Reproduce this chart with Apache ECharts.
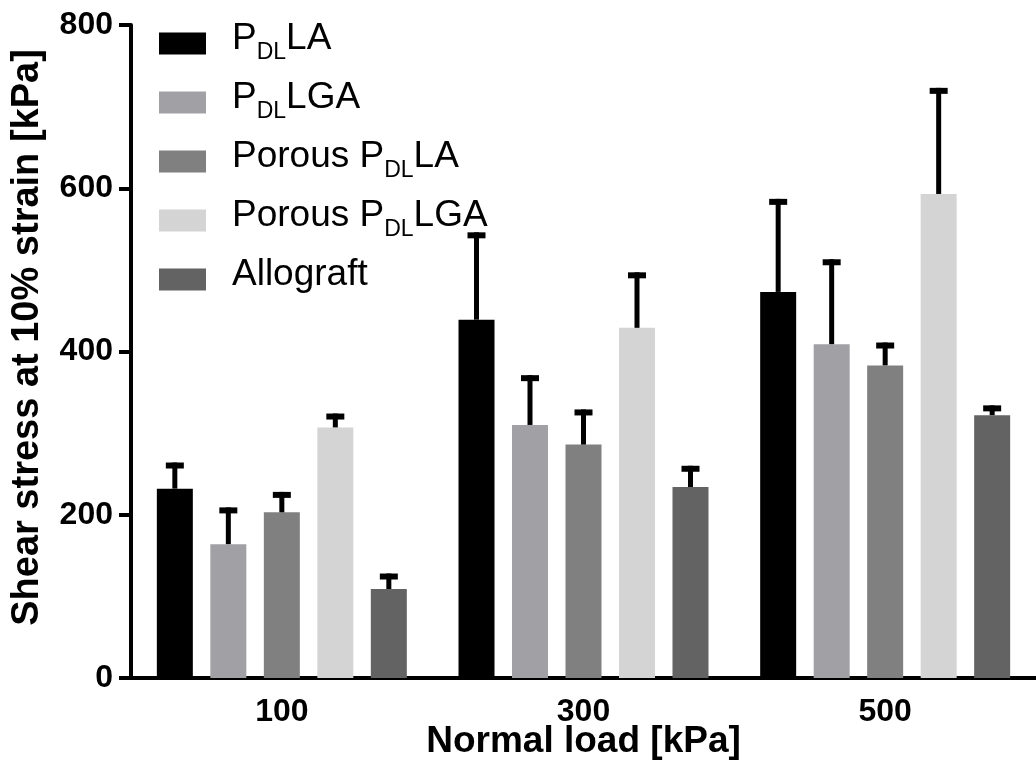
<!DOCTYPE html>
<html>
<head>
<meta charset="utf-8">
<script src="https://cdn.jsdelivr.net/npm/echarts@6/dist/echarts.min.js"></script>
<style>
html,body{margin:0;padding:0;background:#fff;}
#chart{width:1036px;height:783px;}
</style>
</head>
<body>
<div id="chart"></div>
<script>
// ---- data ----
const categories = ['100', '300', '500'];
const seriesNames = ['PDLLA', 'PDLLGA', 'Porous PDLLA', 'Porous PDLLGA', 'Allograft'];
const legendLabels = {
  'PDLLA': '{g| }{m|P}{s|DL}{m|LA}',
  'PDLLGA': '{g| }{m|P}{s|DL}{m|LGA}',
  'Porous PDLLA': '{g| }{m|Porous P}{s|DL}{m|LA}',
  'Porous PDLLGA': '{g| }{m|Porous P}{s|DL}{m|LGA}',
  'Allograft': '{g| }{m|Allograft}'
};
const meanPDLLA = [232, 439, 473];
const meanPDLLGA = [164, 310, 409];
const meanPorousPDLLA = [203, 286, 383];
const meanPorousPDLLGA = [307, 429, 593];
const meanAllograft = [109, 234, 322];
const sdPDLLA = [32, 107, 114];
const sdPDLLGA = [45, 61, 104];
const sdPorousPDLLA = [25, 43, 28];
const sdPorousPDLLGA = [17, 68, 130];
const sdAllograft = [19, 26, 12];
const yTicks = { min: 0, max: 800, interval: 200 };
const colors = ['#000000', '#a1a0a4', '#808080', '#d4d4d4', '#636363'];

const means = [meanPDLLA, meanPDLLGA, meanPorousPDLLA, meanPorousPDLLGA, meanAllograft];
const sds = [sdPDLLA, sdPDLLGA, sdPorousPDLLA, sdPorousPDLLGA, sdAllograft];

const BAR_W = 36, BAR_GAP = 17.5;
const FONT = '"Liberation Sans", Arial, sans-serif';

const barSeries = seriesNames.map((name, i) => ({
  name: name,
  type: 'bar',
  data: means[i],
  barWidth: BAR_W,
  barGap: (BAR_GAP / BAR_W * 100).toFixed(1) + '%',
  itemStyle: { color: colors[i] },
  z: 2
}));

const errSeries = seriesNames.map((name, i) => ({
  name: name + ' SD',
  type: 'custom',
  z: 3,
  data: means[i].map((m, k) => [k, m, m + sds[i][k]]),
  renderItem: function (params, api) {
    const base = api.coord([api.value(0), api.value(1)]);
    const top = api.coord([api.value(0), api.value(2)]);
    const off = (i - (seriesNames.length - 1) / 2) * (BAR_W + BAR_GAP);
    const cx = base[0] + off;
    const capW = 18, capH = 6, stemW = 5;
    return {
      type: 'group',
      children: [
        { type: 'rect', shape: { x: cx - stemW / 2, y: top[1], width: stemW, height: base[1] - top[1] }, style: { fill: '#000' } },
        { type: 'rect', shape: { x: cx - capW / 2, y: top[1], width: capW, height: capH }, style: { fill: '#000' } }
      ]
    };
  },
  encode: { x: 0, y: [1, 2] },
  silent: true
}));

const chart = echarts.init(document.getElementById('chart'), null, { renderer: 'canvas' });
chart.setOption({
  backgroundColor: '#ffffff',
  animation: false,
  grid: { left: 131, top: 25, width: 909, height: 653, containLabel: false },
  legend: {
    data: seriesNames,
    orient: 'vertical',
    left: 159,
    top: 20,
    padding: 0,
    itemWidth: 47,
    itemHeight: 22,
    itemGap: 12,
    icon: 'rect',
    selectedMode: false,
    formatter: function (n) { return legendLabels[n]; },
    textStyle: {
      color: '#000',
      fontFamily: FONT,
      rich: {
        g: { width: 21, fontSize: 37, lineHeight: 37, verticalAlign: 'middle' },
        m: { fontSize: 37, lineHeight: 37, fontFamily: FONT, color: '#000', padding: [0, 0, 10, 0], verticalAlign: 'middle' },
        s: { fontSize: 23, lineHeight: 23, fontFamily: FONT, color: '#000', padding: [18, 0, 0, 0], verticalAlign: 'middle' }
      }
    }
  },
  xAxis: {
    type: 'category',
    data: categories,
    name: 'Normal load [kPa]',
    nameLocation: 'middle',
    nameGap: 45,
    nameMoveOverlap: false,
    nameTextStyle: { fontFamily: FONT, fontWeight: 'bold', fontSize: 37, color: '#000' },
    axisLine: { lineStyle: { color: '#000', width: 4 } },
    axisTick: { alignWithLabel: true, length: 10, lineStyle: { color: '#000', width: 4 } },
    axisLabel: { fontFamily: FONT, fontWeight: 'bold', fontSize: 32, color: '#000', margin: 18 },
    splitLine: { show: false }
  },
  yAxis: {
    type: 'value',
    min: yTicks.min,
    max: yTicks.max,
    interval: yTicks.interval,
    name: 'Shear stress at 10% strain [kPa]',
    nameLocation: 'middle',
    nameGap: 84,
    nameMoveOverlap: false,
    nameTextStyle: { fontFamily: FONT, fontWeight: 'bold', fontSize: 38, color: '#000', padding: [0, 0, 0, 28] },
    axisLine: { show: true, lineStyle: { color: '#000', width: 4 } },
    axisTick: { show: true, length: 12, lineStyle: { color: '#000', width: 4 } },
    axisLabel: { fontFamily: FONT, fontWeight: 'bold', fontSize: 32, color: '#000', margin: 18 },
    splitLine: { show: false }
  },
  series: barSeries.concat(errSeries)
});
</script>
</body>
</html>
